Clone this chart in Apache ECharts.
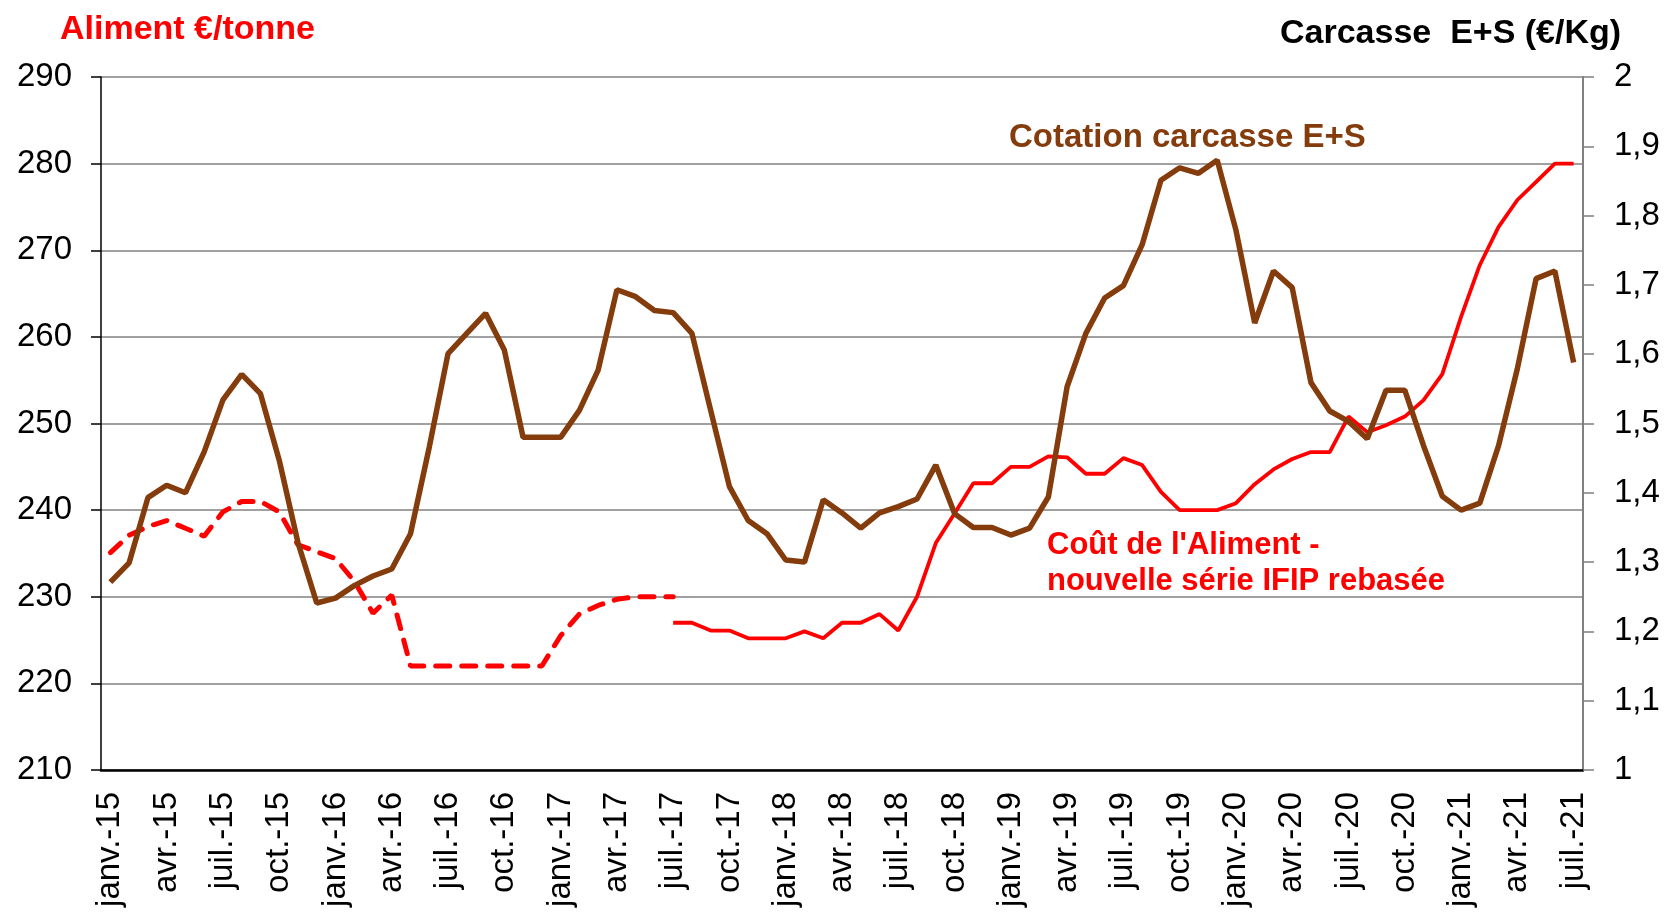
<!DOCTYPE html>
<html>
<head>
<meta charset="utf-8">
<script src="https://cdn.jsdelivr.net/npm/echarts@6/dist/echarts.min.js"></script>
<style>
html,body{margin:0;padding:0;background:#fff;}
#chart{width:1666px;height:912px;}
</style>
</head>
<body>
<div id="chart"></div>
<script>
// ---- data ----
const monthNames = ['janv.', 'févr.', 'mars', 'avr.', 'mai', 'juin', 'juil.', 'août', 'sept.', 'oct.', 'nov.', 'déc.'];
const years = ['15', '16', '17', '18', '19', '20', '21'];
const lastMonthIndex2021 = 6; // juil.-21

// Cotation carcasse E+S (€/kg) janv.-15 .. juil.-21 (right axis)
const carcasse = [
  1.271, 1.299, 1.393, 1.411, 1.400, 1.459, 1.534, 1.571, 1.543, 1.447, 1.328, 1.241,
  1.248, 1.266, 1.280, 1.290, 1.341, 1.466, 1.601, 1.630, 1.659, 1.606, 1.480, 1.480,
  1.480, 1.519, 1.577, 1.693, 1.683, 1.663, 1.660, 1.630, 1.519, 1.409, 1.360, 1.341,
  1.303, 1.300, 1.390, 1.371, 1.349, 1.371, 1.380, 1.391, 1.440, 1.370, 1.350, 1.350,
  1.339, 1.349, 1.394, 1.553, 1.630, 1.681, 1.699, 1.758, 1.851, 1.869, 1.861, 1.880,
  1.779, 1.645, 1.720, 1.696, 1.559, 1.518, 1.503, 1.478, 1.548, 1.548, 1.468, 1.395,
  1.375, 1.385, 1.468, 1.579, 1.709, 1.720, 1.588
];

// Coût de l'aliment, ancienne série (€/t) janv.-15 .. juil.-17 (dashed)
const alimentAncien = [
  235.1, 237.1, 238.1, 238.8, 237.9, 237.0, 239.8, 241.0, 241.0, 239.8, 236.0, 235.2,
  234.4, 231.8, 228.1, 230.2, 222.0, 222.0, 222.0, 222.0, 222.0, 222.0, 222.0, 222.0,
  225.5, 228.0, 229.0, 229.7, 230.0, 230.0, 230.0
];
const alimentAncienStart = 0;

// Coût de l'aliment, nouvelle série IFIP rebasée (€/t) juil.-17 .. juil.-21
const alimentNouveau = [
  227.0, 227.0, 226.1, 226.1, 225.2, 225.2, 225.2, 226.0, 225.2, 227.0, 227.0, 228.0,
  226.1, 230.0, 236.2, 239.6, 243.1, 243.1, 245.0, 245.0, 246.2, 246.1, 244.2, 244.2,
  246.0, 245.2, 242.1, 240.0, 240.0, 240.0, 240.8, 243.0, 244.7, 245.9, 246.7, 246.7,
  250.8, 249.0, 249.8, 250.8, 252.7, 255.7, 262.3, 268.3, 272.7, 275.8, 277.9, 280.0,
  280.0
];
const alimentNouveauStart = 30;

// axis scales
const leftAxis = {min: 210, max: 290, interval: 10};
const rightAxis = {min: 1, max: 2, interval: 0.1};

// ---- build ----
const categories = [];
years.forEach((y, yi) => {
  monthNames.forEach((m, mi) => {
    if (yi === years.length - 1 && mi > lastMonthIndex2021) return;
    categories.push(m + '-' + y);
  });
});
function pad(arr, start) {
  const out = new Array(categories.length).fill(null);
  arr.forEach((v, i) => { out[start + i] = v; });
  return out;
}

const FONT = "'Liberation Sans', Arial, sans-serif";
const BROWN = '#843c0c';
const RED = '#ff0000';
const GRAY = '#808080';

const chart = echarts.init(document.getElementById('chart'), null, {renderer: 'canvas'});
chart.setOption({
  animation: false,
  backgroundColor: '#ffffff',
  grid: {left: 101, right: 83, top: 77, bottom: 142, containLabel: false},
  xAxis: {
    type: 'category',
    data: categories,
    boundaryGap: true,
    axisLine: {lineStyle: {color: '#000', width: 2.5}},
    axisTick: {
      length: 10,
      lineStyle: {color: '#000', width: 1.5},
      interval: function (index) { return index % 3 === 0 && index !== 3 && index !== 66; }
    },
    axisLabel: {
      interval: 2,
      rotate: 90,
      margin: 22,
      color: '#000',
      fontFamily: FONT,
      fontSize: 33
    },
    splitLine: {show: false}
  },
  yAxis: [
    {
      type: 'value',
      position: 'left',
      min: leftAxis.min, max: leftAxis.max, interval: leftAxis.interval,
      axisLine: {show: true, lineStyle: {color: '#000', width: 1.5}},
      axisTick: {show: true, length: 10, lineStyle: {color: '#000', width: 1.5}},
      axisLabel: {color: '#000', fontFamily: FONT, fontSize: 33, margin: 29},
      splitLine: {show: true, lineStyle: {color: GRAY, width: 1.5}}
    },
    {
      type: 'value',
      position: 'right',
      min: rightAxis.min, max: rightAxis.max, interval: rightAxis.interval,
      axisLine: {show: true, lineStyle: {color: GRAY, width: 2}},
      axisTick: {show: true, length: 11, lineStyle: {color: GRAY, width: 1.5}},
      axisLabel: {
        color: '#000', fontFamily: FONT, fontSize: 33, margin: 31,
        formatter: function (v) { return String(Math.round(v * 10) / 10).replace('.', ','); }
      },
      splitLine: {show: false}
    }
  ],
  series: [
    {
      name: 'Aliment ancienne série',
      type: 'line',
      yAxisIndex: 0,
      data: pad(alimentAncien, alimentAncienStart),
      showSymbol: false,
      symbol: 'none',
      connectNulls: false,
      lineStyle: {color: RED, width: 5, type: [14, 12], cap: 'round'},
      z: 2
    },
    {
      name: 'Aliment nouvelle série',
      type: 'line',
      yAxisIndex: 0,
      data: pad(alimentNouveau, alimentNouveauStart),
      showSymbol: false,
      symbol: 'none',
      connectNulls: false,
      lineStyle: {color: RED, width: 3.8},
      z: 3
    },
    {
      name: 'Cotation carcasse E+S',
      type: 'line',
      yAxisIndex: 1,
      data: carcasse,
      showSymbol: false,
      symbol: 'none',
      lineStyle: {color: BROWN, width: 5.5},
      z: 4
    }
  ],
  graphic: [
    {type: 'text', left: 60, top: 13, style: {text: 'Aliment €/tonne', fill: RED, font: "bold 34px " + FONT}},
    {type: 'text', left: 1280, top: 17, style: {text: 'Carcasse  E+S (€/Kg)', fill: '#000', font: "bold 34px " + FONT}},
    {type: 'text', left: 1009, top: 121, style: {text: 'Cotation carcasse E+S', fill: BROWN, font: "bold 33px " + FONT, letterSpacing: 0.6}},
    {type: 'text', left: 1047, top: 530, style: {text: "Coût de l'Aliment -", fill: RED, font: "bold 31px " + FONT}},
    {type: 'text', left: 1047, top: 566, style: {text: 'nouvelle série IFIP rebasée', fill: RED, font: "bold 31px " + FONT}}
  ]
});
</script>
</body>
</html>
